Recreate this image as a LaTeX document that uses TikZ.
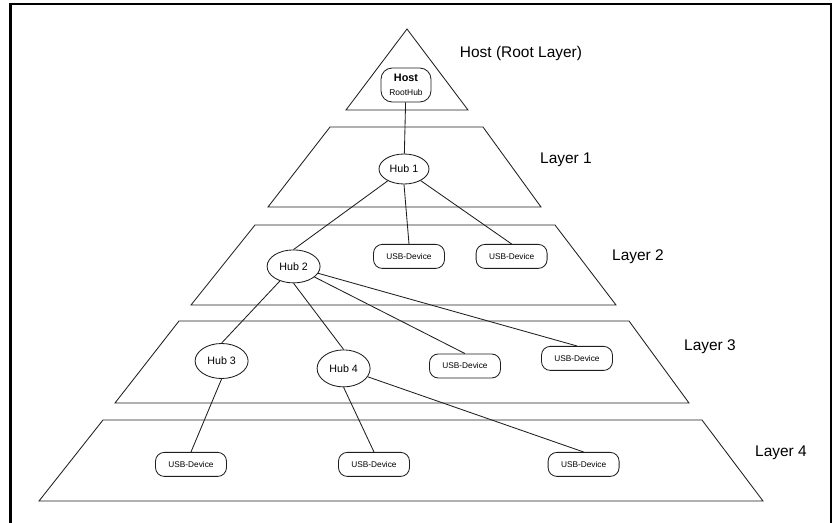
\documentclass[tikz,border=0pt]{standalone}
\usepackage{fontspec}
\setmainfont{Liberation Sans}
\usepackage{xcolor}
\usetikzlibrary{shapes.geometric, positioning}
\definecolor{usb-line}{RGB}{30,30,30}

\begin{document}
\begin{tikzpicture}[
  layer/.style={draw=usb-line, line width=0.6pt, line join=miter},
  root/.style={draw=usb-line, rounded corners=0.28cm, line width=0.6pt, fill=white, inner sep=0pt, minimum width=1.25cm, minimum height=0.85cm, align=center, font=\fontsize{6}{10}\selectfont},
  hub/.style={draw=usb-line, ellipse, line width=0.6pt, fill=white, inner sep=0pt, minimum width=1.325cm, minimum height=0.875cm, font=\fontsize{7.6}{9}\selectfont},
  dev/.style={draw=usb-line, rounded corners=0.22cm, line width=0.6pt, fill=white, inner sep=0pt, minimum width=1.775cm, minimum height=0.6cm, font=\fontsize{5.9}{7}\selectfont},
  lbl/.style={inner sep=0pt, font=\fontsize{11}{13}\selectfont},
  link/.style={usb-line, line width=0.6pt},
]
  \useasboundingbox (0,0) rectangle (20.8,-13.075);

  % Frame
  \draw[line width=2.1pt] (0.2625,-13.075) -- (0.2625,-0.1) -- (20.7875,-0.1) -- (20.7875,-13.075);

  % Layers
  \draw[layer] (10.175,-0.725) -- (11.7,-2.75) -- (8.65,-2.75) -- cycle;
  \draw[layer] (8.25,-3.175) -- (12.075,-3.175) -- (13.525,-5.175) -- (6.7,-5.175) -- cycle;
  \draw[layer] (6.375,-5.625) -- (13.875,-5.625) -- (15.4,-7.625) -- (4.775,-7.625) -- cycle;
  \draw[layer] (4.475,-8.025) -- (15.725,-8.025) -- (17.225,-10.075) -- (2.875,-10.075) -- cycle;
  \draw[layer] (2.575,-10.5) -- (17.55,-10.5) -- (19.075,-12.525) -- (0.975,-12.525) -- cycle;

  % Layer labels
  \node[lbl] (lroot) at (13.025,-1.35) {Host (Root Layer)};
  \node[lbl] (l1) at (14.15,-4.0) {Layer 1};
  \node[lbl] (l2) at (15.95,-6.425) {Layer 2};
  \node[lbl] (l3) at (17.75,-8.675) {Layer 3};
  \node[lbl] (l4) at (19.525,-11.325) {Layer 4};

  % Host
  \node[root] (host) at (10.15,-2.125) {{\bfseries\fontsize{7.7}{10}\selectfont Host}\\RootHub};

  % Hubs
  \node[hub, minimum height=0.75cm, minimum width=1.25cm] (hub1) at (10.1,-4.225) {Hub 1};
  \node[hub, minimum height=0.825cm] (hub2) at (7.34,-6.66) {Hub 2};
  \node[hub] (hub3) at (5.54,-9.025) {Hub 3};
  \node[hub, minimum height=0.925cm] (hub4) at (8.59,-9.21) {Hub 4};

  % Devices
  \node[dev] (dev21) at (10.225,-6.41) {USB-Device};
  \node[dev] (dev22) at (12.79,-6.41) {USB-Device};
  \node[dev] (dev31) at (11.625,-9.15) {USB-Device};
  \node[dev] (dev32) at (14.425,-8.96) {USB-Device};
  \node[dev] (dev41) at (4.775,-11.61) {USB-Device};
  \node[dev] (dev42) at (9.35,-11.61) {USB-Device};
  \node[dev] (dev43) at (14.59,-11.61) {USB-Device};

  % Links
  \draw[link] (host) -- (hub1);
  \draw[link] (hub1) -- (hub2.north);
  \draw[link] (hub1.south) -- (dev21.north);
  \draw[link] (hub1) -- (dev22.north);
  \draw[link] (hub2) -- (hub3.north);
  \draw[link] (hub2.south) -- (hub4.north);
  \draw[link] (hub2) -- (dev31.north);
  \draw[link] (hub2) -- (dev32.north);
  \draw[link] (hub3.south) -- (dev41.north);
  \draw[link] (hub4.south) -- (dev42.north);
  \draw[link] (hub4) -- (dev43.north);
\end{tikzpicture}
\end{document}
